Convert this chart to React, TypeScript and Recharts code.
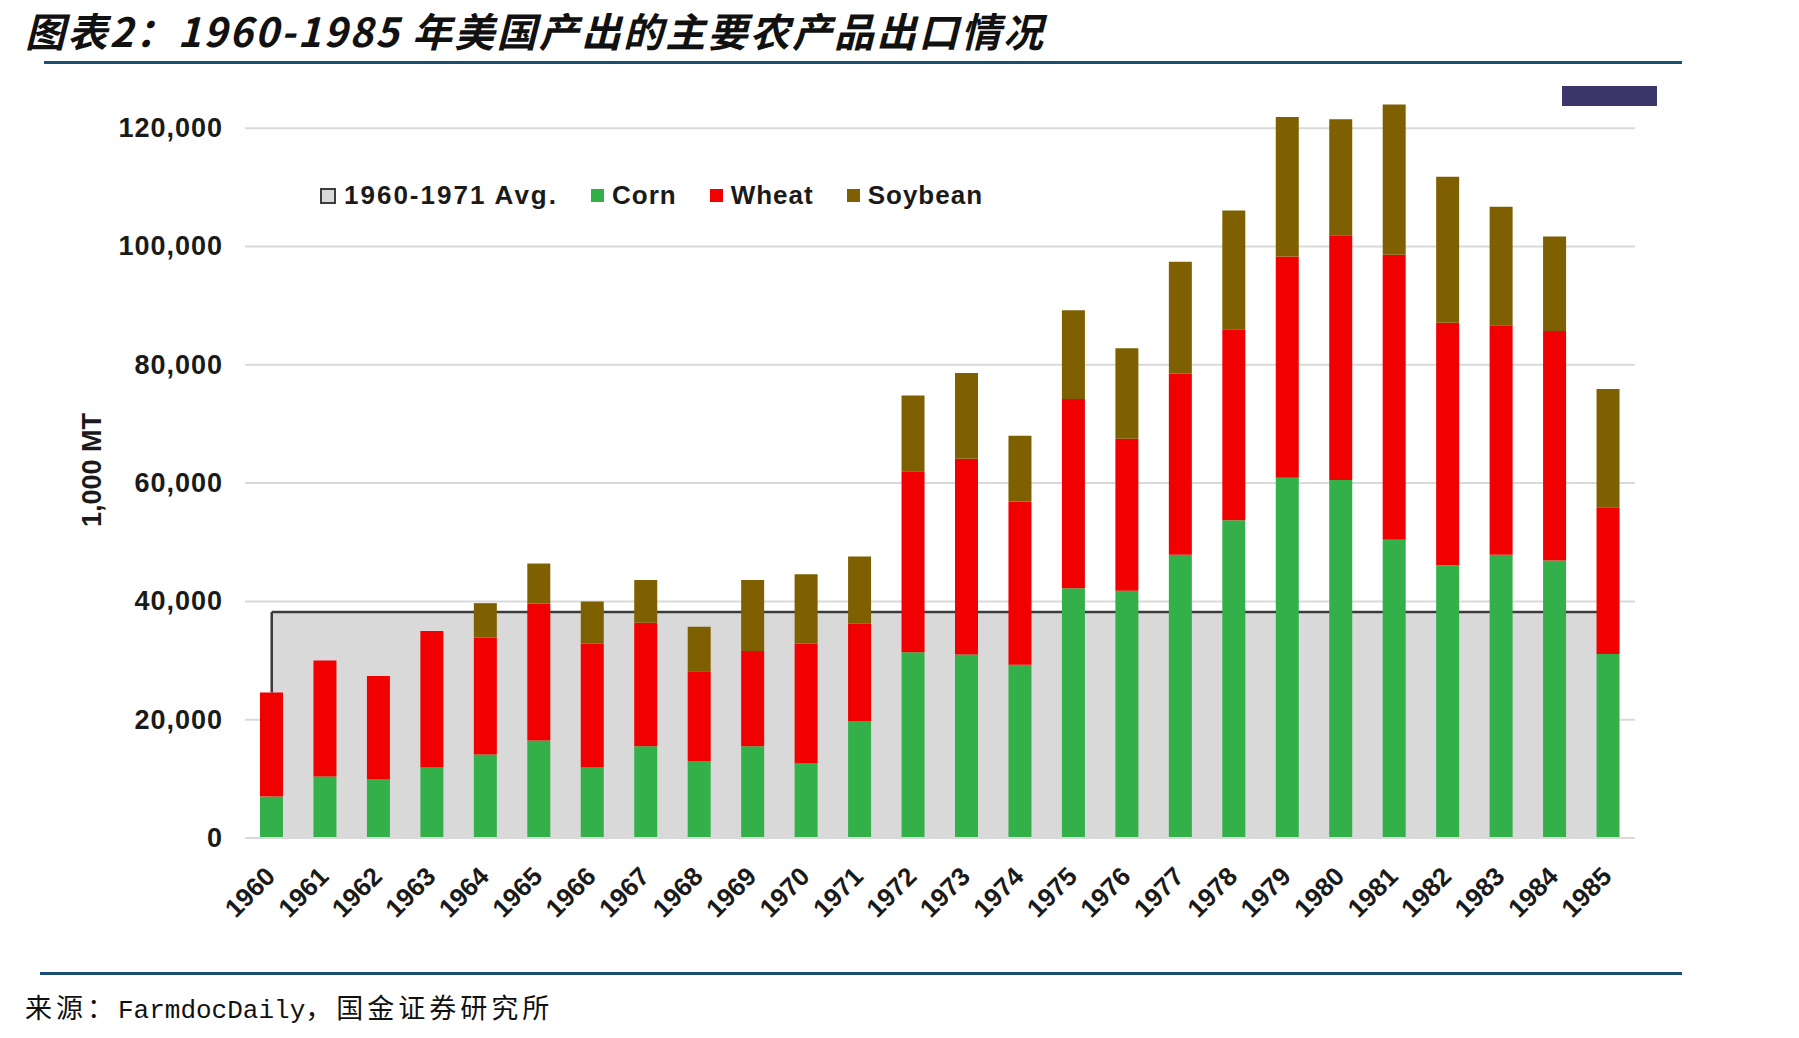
import React from 'react';
import {
  ComposedChart,
  Bar,
  Area,
  XAxis,
  YAxis,
  CartesianGrid,
  Legend,
  ReferenceLine,
} from 'recharts';

// U.S. export volumes of the main farm products, 1,000 MT
const years = [
  '1960', '1961', '1962', '1963', '1964', '1965', '1966', '1967', '1968', '1969', '1970', '1971', '1972',
  '1973', '1974', '1975', '1976', '1977', '1978', '1979', '1980', '1981', '1982', '1983', '1984', '1985',
];
const corn = [
  7000, 10400, 9900, 11900, 14100, 16500, 11900, 15500, 13000, 15500, 12600, 19800, 31400,
  31000, 29300, 42200, 41800, 47900, 53700, 60900, 60500, 50400, 46100, 47900, 46900, 31100,
];
const wheat = [
  17600, 19600, 17500, 23100, 19800, 23100, 21000, 20900, 15200, 16100, 20300, 16400, 30600,
  33100, 27600, 32000, 25700, 30600, 32300, 37400, 41400, 48200, 41000, 38800, 38800, 24800,
];
const soybean = [
  0, 0, 0, 0, 5800, 6800, 7100, 7200, 7500, 12000, 11700, 11400, 12800,
  14500, 11100, 15000, 15300, 18900, 20100, 23600, 19600, 25400, 24700, 20000, 16000, 20000,
];
// 1960-1971 average of total exports
const baselineAvg = 38200;
const yTicks = [0, 20000, 40000, 60000, 80000, 100000, 120000];

const seriesNames = { avg: '1960-1971 Avg.', corn: 'Corn', wheat: 'Wheat', soybean: 'Soybean' };
const colors = {
  avgFill: '#d9d9d9',
  avgStroke: '#3c3c3c',
  corn: '#34b04b',
  wheat: '#f00000',
  soybean: '#7f6000',
  grid: '#d9d9d9',
  rule: '#1b4f72',
};

const data = years.map((year, i) => ({
  year,
  avg: baselineAvg,
  corn: corn[i],
  wheat: wheat[i],
  soybean: soybean[i],
}));

// the left edge of the average band shows only above the first stacked bar
const firstTotal = corn[0] + wheat[0] + soybean[0];

const latin = '"Liberation Sans", Arial, sans-serif';
const cjk = '"Noto Sans CJK SC", sans-serif';

const fmt = (v: number) => v.toLocaleString('en-US');

const YTick = (props: any) => {
  const { x, y, payload } = props;
  return (
    <text
      x={x - 14}
      y={y}
      textAnchor="end"
      dominantBaseline="central"
      fontFamily={latin}
      fontWeight={700}
      fontSize={27}
      letterSpacing={1}
      fill="#1a1a1a"
    >
      {fmt(payload.value)}
    </text>
  );
};

const XTick = (props: any) => {
  const { x, y, payload } = props;
  return (
    <g transform={`translate(${x + 5},${y + 32})`}>
      <text
        textAnchor="end"
        transform="rotate(-45)"
        fontFamily={latin}
        fontWeight={700}
        fontSize={26}
        fill="#1a1a1a"
      >
        {payload.value}
      </text>
    </g>
  );
};

const LegendContent = () => {
  const items = [
    { key: 'avg', fill: colors.avgFill, border: colors.avgStroke },
    { key: 'corn', fill: colors.corn, border: colors.corn },
    { key: 'wheat', fill: colors.wheat, border: colors.wheat },
    { key: 'soybean', fill: colors.soybean, border: colors.soybean },
  ] as const;
  return (
    <div style={{ display: 'flex', alignItems: 'center', whiteSpace: 'nowrap' }}>
      {items.map((it) => (
        <div key={it.key} style={{ display: 'flex', alignItems: 'center', marginRight: 33 }}>
          <span
            style={{
              display: 'inline-block',
              width: it.key === 'avg' ? 12 : 13,
              height: it.key === 'avg' ? 12 : 13,
              background: it.fill,
              border: it.key === 'avg' ? `2px solid ${it.border}` : 'none',
              marginRight: 8,
            }}
          />
          <span
            style={{
              fontFamily: latin,
              fontWeight: 700,
              fontSize: 26,
              letterSpacing: it.key === 'avg' ? 2 : 1,
              color: '#1a1a1a',
            }}
          >
            {seriesNames[it.key]}
          </span>
        </div>
      ))}
    </div>
  );
};

export default function App() {
  return (
    <div
      style={{
        position: 'absolute',
        left: 0,
        top: 0,
        width: 1799,
        height: 1038,
        background: '#ffffff',
        overflow: 'hidden',
      }}
    >
      <div
        style={{
          position: 'absolute',
          left: 25,
          top: 4,
          paddingRight: 12,
          fontFamily: cjk,
          fontWeight: 700,
          fontStyle: 'italic',
          fontSize: 40,
          letterSpacing: 2.2,
          lineHeight: '52px',
          color: '#111',
          whiteSpace: 'nowrap',
        }}
      >
        图表2：1960-1985 年美国产出的主要农产品出口情况
      </div>
      <div style={{ position: 'absolute', left: 44, top: 61, width: 1638, height: 3, background: colors.rule }} />

      <ComposedChart
        width={1799}
        height={1038}
        data={data}
        margin={{ top: 69, right: 164, bottom: 0, left: 0 }}
        barSize={23}
      >
        <CartesianGrid vertical={false} horizontalValues={yTicks} stroke={colors.grid} strokeWidth={2} />
        <XAxis
          dataKey="year"
          height={200}
          tickLine={false}
          axisLine={{ stroke: colors.grid, strokeWidth: 2 }}
          interval={0}
          tick={<XTick />}
        />
        <YAxis
          width={245}
          domain={[0, 130000]}
          ticks={yTicks}
          tickLine={false}
          axisLine={false}
          tick={<YTick />}
          label={() => (
            <text
              x={92}
              y={470}
              transform="rotate(-90 92 470)"
              textAnchor="middle"
              dominantBaseline="central"
              fontFamily={latin}
              fontWeight={700}
              fontSize={27}
              fill="#1a1a1a"
            >
              1,000 MT
            </text>
          )}
        />
        <Legend
          layout="horizontal"
          verticalAlign="middle"
          align="center"
          wrapperStyle={{ position: 'absolute', left: 320, top: 180, width: 'auto' }}
          content={<LegendContent />}
        />
        <Area
          type="linear"
          dataKey="avg"
          name={seriesNames.avg}
          stroke={colors.avgStroke}
          strokeWidth={2.5}
          fill={colors.avgFill}
          fillOpacity={1}
          isAnimationActive={false}
          dot={false}
          activeDot={false}
        />
        <ReferenceLine
          segment={[
            { x: years[0], y: firstTotal },
            { x: years[0], y: baselineAvg },
          ]}
          stroke={colors.avgStroke}
          strokeWidth={2.5}
        />
        <Bar dataKey="corn" name={seriesNames.corn} stackId="exports" fill={colors.corn} isAnimationActive={false} />
        <Bar dataKey="wheat" name={seriesNames.wheat} stackId="exports" fill={colors.wheat} isAnimationActive={false} />
        <Bar dataKey="soybean" name={seriesNames.soybean} stackId="exports" fill={colors.soybean} isAnimationActive={false} />
      </ComposedChart>

      <div style={{ position: 'absolute', left: 1562, top: 86, width: 95, height: 20, background: '#3b3869' }} />
      <div style={{ position: 'absolute', left: 40, top: 972, width: 1642, height: 3, background: colors.rule }} />
      <div
        style={{
          position: 'absolute',
          left: 25,
          top: 990,
          whiteSpace: 'nowrap',
          lineHeight: '34px',
          color: '#111',
        }}
      >
        <span style={{ fontFamily: cjk, fontSize: 27, letterSpacing: 4 }}>来源：</span>
        <span style={{ fontFamily: '"Liberation Mono", monospace', fontSize: 26 }}>FarmdocDaily</span>
        <span style={{ fontFamily: cjk, fontSize: 27, letterSpacing: 4 }}>，国金证券研究所</span>
      </div>
    </div>
  );
}
